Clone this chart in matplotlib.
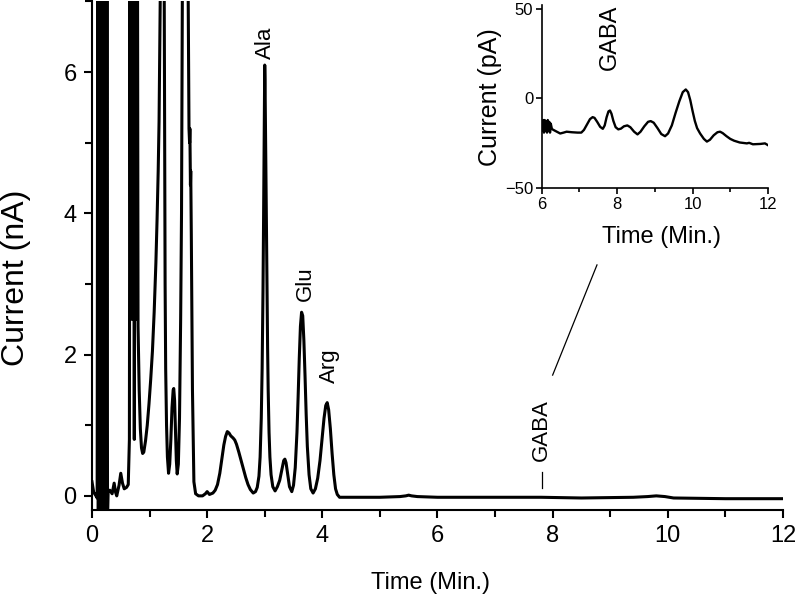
import matplotlib
matplotlib.use("Agg")
import matplotlib.pyplot as plt
from matplotlib.ticker import MultipleLocator

plt.rcParams['font.family'] = ['Liberation Sans', 'DejaVu Sans']

# ---- main chromatogram (time in min, current in nA) ----
main_time = [0.00, 0.03, 0.07, 0.09,
             0.10, 0.11, 0.12, 0.13, 0.14, 0.15, 0.16, 0.17, 0.18, 0.19,
             0.20, 0.21, 0.22, 0.23, 0.24, 0.25, 0.26, 0.27,
             0.28, 0.31, 0.35, 0.385, 0.41, 0.43, 0.47, 0.50, 0.53, 0.56,
             0.60, 0.63, 0.65,
             0.66, 0.67, 0.68, 0.69, 0.70, 0.71, 0.72, 0.735, 0.75, 0.76,
             0.77, 0.78, 0.79, 0.80,
             0.82, 0.84, 0.86, 0.88, 0.90, 0.93, 0.96, 0.99, 1.02, 1.05,
             1.08, 1.11, 1.13, 1.15, 1.165, 1.18, 1.19, 1.21, 1.25, 1.26,
             1.27, 1.28, 1.295, 1.31, 1.33, 1.35, 1.37, 1.39, 1.41, 1.42,
             1.435, 1.45, 1.465, 1.48, 1.50, 1.52, 1.54, 1.555, 1.565, 1.575,
             1.64, 1.66, 1.685, 1.695, 1.70, 1.71, 1.715, 1.725, 1.745, 1.77,
             1.80, 1.85, 1.92, 1.97, 2.00, 2.04, 2.10,
             2.14, 2.18, 2.22, 2.26, 2.29, 2.32, 2.35, 2.38, 2.41, 2.45,
             2.48, 2.51, 2.55, 2.59, 2.63, 2.67, 2.71, 2.75, 2.80,
             2.84, 2.87, 2.90, 2.92, 2.94, 2.955, 2.97, 2.98, 2.99, 2.995,
             3.00, 3.005, 3.01, 3.02, 3.03, 3.04, 3.05, 3.06, 3.075, 3.09,
             3.11, 3.14, 3.18,
             3.22, 3.26, 3.30, 3.33, 3.35, 3.37, 3.40, 3.43, 3.47,
             3.50, 3.53, 3.56, 3.58, 3.60, 3.62, 3.64, 3.66, 3.68, 3.70,
             3.72, 3.74, 3.77, 3.80, 3.84,
             3.88, 3.92, 3.96, 4.00, 4.03, 4.06, 4.085, 4.11, 4.14, 4.17,
             4.20, 4.23, 4.26, 4.30,
             5.00, 5.35, 5.45, 5.50, 5.55, 5.65, 6.00, 7.00, 7.80, 8.50,
             9.40, 9.65, 9.80, 9.95, 10.10, 11.00, 12.00]
main_current = [0.20, 0.05, 0.00, -0.03,
                7.5, -0.3, 7.5, -0.3, 7.5, -0.3, 7.5, -0.3, 7.5, -0.3,
                7.5, -0.3, 7.5, -0.3, 7.5, -0.3, 7.5, -0.3,
                0.05, 0.08, 0.03, 0.18, 0.05, 0.00, 0.15, 0.32, 0.18, 0.10,
                0.12, 0.16, 0.80,
                8.0, 3.0, 8.0, 2.5, 8.0, 3.0, 8.0, 0.80, 8.0, 3.0,
                8.0, 2.5, 8.0, 2.4,
                1.5, 0.95, 0.68, 0.60, 0.62, 0.78, 1.0, 1.3, 1.65, 2.05,
                2.6, 3.3, 3.9, 4.6, 5.3, 6.5, 7.5, 8.5, 8.5, 5.5,
                3.0, 1.8, 1.0, 0.55, 0.32, 0.45, 0.80, 1.25, 1.50, 1.52,
                1.35, 0.90, 0.50, 0.31, 0.45, 1.1, 2.5, 4.0, 6.0, 8.5,
                8.5, 8.5, 5.2, 5.0, 5.2, 4.4, 4.6, 3.7, 1.5, 0.2,
                0.03, 0.00, 0.00, 0.03, 0.06, 0.02, 0.04,
                0.08, 0.16, 0.32, 0.55, 0.72, 0.84, 0.91, 0.89, 0.85, 0.82,
                0.79, 0.73, 0.62, 0.50, 0.38, 0.26, 0.16, 0.09, 0.04,
                0.06, 0.12, 0.28, 0.55, 1.1, 1.8, 2.9, 3.9, 5.1, 5.7,
                6.1, 5.9, 5.5, 4.7, 3.8, 2.9, 2.1, 1.5, 0.9, 0.55,
                0.30, 0.13, 0.07,
                0.13, 0.22, 0.38, 0.50, 0.52, 0.47, 0.30, 0.13, 0.06,
                0.15, 0.40, 0.90, 1.4, 1.95, 2.4, 2.6, 2.55, 2.2, 1.7,
                1.15, 0.70, 0.30, 0.10, 0.04,
                0.10, 0.25, 0.50, 0.85, 1.1, 1.28, 1.32, 1.22, 0.95, 0.60,
                0.30, 0.10, 0.02, -0.02,
                -0.02, -0.01, 0.00, 0.01, 0.00, -0.01, -0.02, -0.02, -0.02, -0.03,
                -0.02, -0.01, 0.00, -0.01, -0.03, -0.04, -0.04]

main_xticks = [0, 2, 4, 6, 8, 10, 12]
main_yticks = [0, 2, 4, 6]
peak_labels = ["Ala", "Glu", "Arg", "GABA"]
peak_label_time = [3.02, 3.70, 4.13, 7.81]
peak_label_current = [6.41, 3.0, 1.84, 0.93]

# ---- inset (time in min, current in pA) ----
inset_time = [6.00, 6.02, 6.04, 6.06, 6.08, 6.10, 6.12, 6.14, 6.16, 6.18,
              6.20, 6.22, 6.24, 6.27, 6.31, 6.40, 6.49, 6.58, 6.66, 6.80,
              6.95, 7.05, 7.12, 7.20, 7.28, 7.35, 7.40, 7.47, 7.55, 7.62,
              7.67, 7.72, 7.77, 7.81, 7.85, 7.90, 7.96, 8.03, 8.10, 8.18,
              8.27, 8.35, 8.45, 8.54, 8.62, 8.72, 8.82, 8.89, 8.97, 9.07,
              9.17, 9.27, 9.35, 9.45, 9.55, 9.65, 9.74, 9.82, 9.88, 9.94,
              10.00, 10.06, 10.12, 10.20, 10.30, 10.38, 10.46, 10.56, 10.66, 10.73,
              10.80, 10.90, 11.00, 11.10, 11.25, 11.44, 11.50, 11.60, 11.80, 11.92,
              12.00]
inset_current = [-14, -18, -12, -19, -12, -18, -13, -19, -12, -18,
                 -13, -19, -14, -17, -17.5, -18.5, -19.5, -19, -18.5, -18.8,
                 -19, -19, -17.5, -14.5, -11.5, -10.4, -10.8, -13, -15.8, -16.9,
                 -15, -10.5, -7.2, -6.7, -8.5, -12.5, -16, -17.2, -16.8, -15.5,
                 -15, -16, -18.5, -20, -18.5, -15.5, -13, -12.6, -13.5, -16.5,
                 -19.8, -21, -19.5, -15, -8, -1.5, 3.5, 5.0, 3.5, -1,
                 -7, -12.5, -16.5, -19.5, -22.5, -24, -23, -20.5, -18.8, -18.5,
                 -19.3, -21, -22.5, -23.5, -24.5, -25, -24.7, -25.5, -25.3, -25,
                 -26]
inset_xticks = [6, 8, 10, 12]
inset_yticks = [-50, 0, 50]

fig = plt.figure(figsize=(7.97, 5.99), dpi=100)
ax = fig.add_axes([0.1154, 0.1486, 0.8670, 0.8489])
ax.plot(main_time, main_current, color='black', lw=2.2, solid_joinstyle='round')
ax.set_xlim(0, 12)
ax.set_ylim(-0.2, 7.0)
ax.set_xticks(main_xticks)
ax.set_yticks(main_yticks)
ax.xaxis.set_minor_locator(MultipleLocator(1))
ax.yaxis.set_minor_locator(MultipleLocator(1))
for s in ['top', 'right']:
    ax.spines[s].set_visible(False)
for s in ['left', 'bottom']:
    ax.spines[s].set_linewidth(1.5)
ax.tick_params(which='major', direction='out', length=6, width=1.5, labelsize=17, pad=5)
ax.tick_params(which='minor', direction='out', length=5, width=1.5)
ax.set_xlabel('Time (Min.)', fontsize=17)
ax.set_ylabel('Current (nA)', fontsize=23)
ax.xaxis.set_label_coords(0.49, -0.143)
ax.xaxis.label.set_verticalalignment('center')
ax.yaxis.set_label_coords(-0.110, 0.457)
ax.yaxis.label.set_verticalalignment('center')

for name, t, c in zip(peak_labels, peak_label_time, peak_label_current):
    ax.text(t, c, name, rotation=90, ha='center', va='center', fontsize=16)
# GABA marker and connector to inset
ax.plot([7.81, 7.81], [0.11, 0.34], color='black', lw=0.9)
ax.plot([8.0, 8.77], [1.71, 3.27], color='black', lw=0.9, clip_on=False)

# inset
ins = fig.add_axes([0.6797, 0.6856, 0.2839, 0.3061])
ins.plot(inset_time, inset_current, color='black', lw=1.7)
ins.set_xlim(6, 12)
ins.set_ylim(-50, 52)
ins.set_xticks(inset_xticks)
ins.set_yticks(inset_yticks)
ins.xaxis.set_minor_locator(MultipleLocator(1))
for s in ['top', 'right']:
    ins.spines[s].set_visible(False)
for s in ['left', 'bottom']:
    ins.spines[s].set_linewidth(1.2)
ins.tick_params(which='major', direction='out', length=4, width=1.2, labelsize=12, pad=2)
ins.tick_params(which='minor', direction='out', length=3, width=1.2)
ins.set_xlabel('Time (Min.)', fontsize=17)
ins.set_ylabel('Current (pA)', fontsize=18)
ins.xaxis.set_label_coords(0.53, -0.266)
ins.xaxis.label.set_verticalalignment('center')
ins.yaxis.set_label_coords(-0.228, 0.498)
ins.yaxis.label.set_verticalalignment('center')
ins.text(7.81, 34, 'GABA', rotation=90, ha='center', va='center', fontsize=17)

fig.savefig('out.png', dpi=100)
